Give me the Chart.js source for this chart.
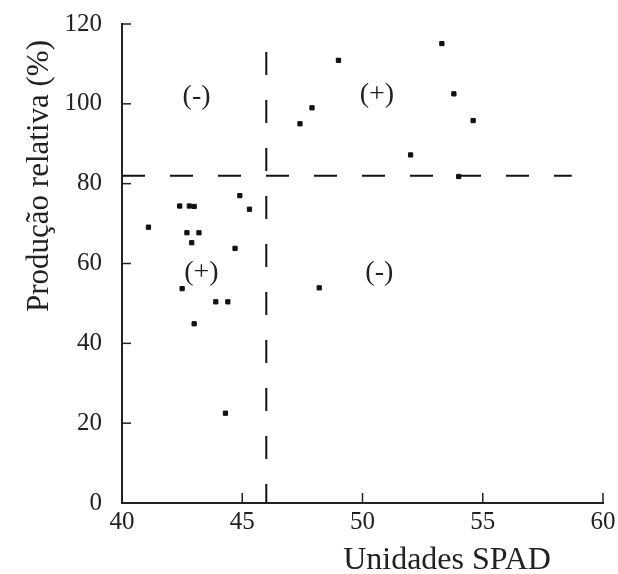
<!DOCTYPE html>
<html>
<head>
<meta charset="utf-8">
<script src="https://cdn.jsdelivr.net/npm/chart.js@4"></script>
<style>
  html, body { margin: 0; padding: 0; background: #fff; }
  #wrap { width: 618px; height: 574px; }
</style>
</head>
<body>
<div id="wrap"><canvas id="myChart"></canvas></div>
<script>
// values
const spadUnits = [44.9, 45.3, 42.4, 42.8, 43.0, 41.1, 42.7, 43.2, 42.9, 44.7, 42.5, 43.9,
                   44.4, 43.0, 44.3, 53.3, 49.0, 53.8, 47.9, 47.4, 54.6, 52.0, 54.0, 48.2];
const relYield = [77.0, 73.6, 74.4, 74.4, 74.3, 69.1, 67.7, 67.7, 65.2, 63.8, 53.7, 50.4,
                  50.4, 44.9, 22.5, 115.1, 110.9, 102.5, 99.0, 95.0, 95.8, 87.2, 81.8, 53.9];

// critical level lines
const critSpad = 46;
const critYield = 82;
const vLineY = [113, 0];
const hLineX = [40, 58.7];

// quadrant labels
const quadText = ['(-)', '(+)', '(+)', '(-)'];
const quadX = [43.1, 50.6, 43.3, 50.7];
const quadY = [101.9, 102.3, 57.8, 57.8];

const xTicks = [40, 45, 50, 55, 60];
const yTicks = [0, 20, 40, 60, 80, 100, 120];

const serif = '"Liberation Serif", "DejaVu Serif", serif';
const ink = '#222';

const points = spadUnits.map((x, i) => ({ x: x, y: relYield[i] }));

const extras = {
    id: 'extras',
    afterDatasetsDraw(chart) {
        const ctx = chart.ctx;
        const xs = chart.scales.x;
        const ys = chart.scales.y;
        const area = chart.chartArea;
        ctx.save();
        ctx.strokeStyle = ink;
        ctx.lineWidth = 1.5;
        // inward ticks
        xTicks.forEach(v => {
            const px = xs.getPixelForValue(v);
            ctx.beginPath();
            ctx.moveTo(px, area.bottom);
            ctx.lineTo(px, area.bottom - 10);
            ctx.stroke();
        });
        yTicks.forEach(v => {
            const py = ys.getPixelForValue(v);
            ctx.beginPath();
            ctx.moveTo(area.left, py);
            ctx.lineTo(area.left + 9, py);
            ctx.stroke();
        });
        // quadrant labels
        ctx.fillStyle = ink;
        ctx.font = '28px ' + serif;
        ctx.textAlign = 'center';
        ctx.textBaseline = 'middle';
        quadText.forEach((t, i) => {
            ctx.fillText(t, xs.getPixelForValue(quadX[i]), ys.getPixelForValue(quadY[i]));
        });
        // axis titles
        ctx.font = '32px ' + serif;
        ctx.textBaseline = 'alphabetic';
        ctx.fillText('Unidades SPAD', 447, 569);
        ctx.font = '31px ' + serif;
        ctx.translate(40, 176);
        ctx.rotate(-Math.PI / 2);
        ctx.textBaseline = 'middle';
        ctx.fillText('Produção relativa (%)', 0, 0);
        ctx.restore();
    }
};

const ctx = document.getElementById('myChart');

const myChart = new Chart(ctx, {
    type: 'scatter',
    data: {
        datasets: [{
            label: 'pontos',
            data: points,
            pointStyle: 'rect',
            pointRadius: 3,
            backgroundColor: '#111',
            borderColor: '#111',
            borderWidth: 1
        }, {
            label: 'critico SPAD',
            type: 'line',
            data: vLineY.map(y => ({ x: critSpad, y: y })),
            borderColor: '#111',
            borderWidth: 2,
            borderDash: [23, 25],
            pointRadius: 0,
            fill: false
        }, {
            label: 'critico producao',
            type: 'line',
            data: hLineX.map(x => ({ x: x, y: critYield })),
            borderColor: '#111',
            borderWidth: 2,
            borderDash: [23, 25],
            pointRadius: 0,
            fill: false
        }]
    },
    options: {
        responsive: true,
        maintainAspectRatio: false,
        animation: false,
        layout: { padding: { top: 24, right: 15, left: 0, bottom: 0 } },
        plugins: {
            legend: { display: false },
            tooltip: { enabled: false }
        },
        scales: {
            x: {
                type: 'linear',
                min: 40,
                max: 60,
                afterBuildTicks: s => { s.ticks = xTicks.map(v => ({ value: v })); },
                afterFit: s => { s.height = 71; s.paddingLeft = 0; s.paddingRight = 0; },
                grid: { display: true, drawOnChartArea: false, drawTicks: false },
                border: { display: true, color: ink, width: 2 },
                ticks: {
                    color: ink,
                    padding: 4,
                    maxRotation: 0,
                    font: { family: serif, size: 25 }
                }
            },
            y: {
                type: 'linear',
                min: 0,
                max: 120,
                afterBuildTicks: s => { s.ticks = yTicks.map(v => ({ value: v })); },
                afterFit: s => { s.width = 122; s.paddingTop = 0; s.paddingBottom = 0; },
                grid: { display: true, drawOnChartArea: false, drawTicks: false },
                border: { display: true, color: ink, width: 2 },
                ticks: {
                    color: ink,
                    padding: 20,
                    font: { family: serif, size: 25 }
                }
            }
        }
    },
    plugins: [extras]
});
</script>
</body>
</html>
